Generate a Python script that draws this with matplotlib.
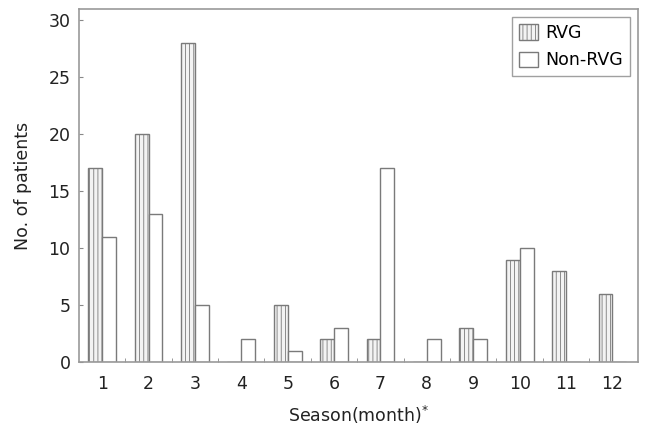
import matplotlib
matplotlib.use("Agg")
import matplotlib.pyplot as plt
import numpy as np

months = ["1", "2", "3", "4", "5", "6", "7", "8", "9", "10", "11", "12"]
rvg = [17, 20, 28, 0, 5, 2, 2, 0, 3, 9, 8, 6]
non_rvg = [11, 13, 5, 2, 1, 3, 17, 2, 2, 10, 0, 0]
y_ticks = [0, 5, 10, 15, 20, 25, 30]

plt.rcParams['font.family'] = ['DejaVu Sans']
plt.rcParams['hatch.color'] = '#cfcfcf'
plt.rcParams['hatch.linewidth'] = 0.6

fig = plt.figure(figsize=(6.47, 4.26), dpi=100)
ax = fig.add_axes([0.122, 0.150, 0.864, 0.829])

x = np.arange(1, len(months) + 1)
w = 0.30
ax.bar(x - w / 2, rvg, width=w, color='#f3f3f3', edgecolor='#7a7a7a',
       linewidth=1.0, hatch='||||', label='RVG')
ax.bar(x + w / 2, non_rvg, width=w, color='white', edgecolor='#7a7a7a',
       linewidth=1.0, label='Non-RVG')

ax.set_xlim(0.5, 12.55)
ax.set_ylim(0, 31)
ax.set_yticks(y_ticks)
ax.set_xticks(x)
ax.set_xticklabels(months)
ax.set_xticks(np.arange(1.5, 12.5, 1), minor=True)
ax.tick_params(axis='x', which='major', length=0, pad=9, labelsize=12.5, colors='#222222')
ax.tick_params(axis='x', which='minor', direction='in', length=3, color='#888888')
ax.tick_params(axis='y', direction='in', length=3, color='#888888', labelsize=12.5,
               labelcolor='#222222', pad=6)
for s in ax.spines.values():
    s.set_color('#999999')
    s.set_linewidth(1.2)

ax.set_xlabel('Season(month)$^{*}$', fontsize=12.5, color='#222222', labelpad=8)
ax.set_ylabel('No. of patients', fontsize=12.5, color='#222222', labelpad=12)

leg = ax.legend(loc='upper right', fontsize=12.5, frameon=True, fancybox=False,
                edgecolor='#888888', handlelength=1.1, handleheight=1.0,
                handletextpad=0.45, borderpad=0.4, labelspacing=0.55,
                borderaxespad=0.45)
leg.get_frame().set_linewidth(1.0)

fig.savefig('out.png', dpi=100)
